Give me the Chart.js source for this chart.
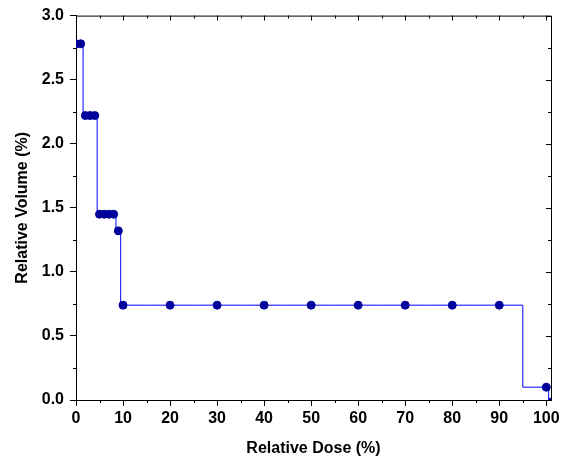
<!DOCTYPE html>
<html>
<head>
<meta charset="utf-8">
<script src="https://cdn.jsdelivr.net/npm/chart.js@4.4.1/dist/chart.umd.min.js"></script>
<style>
  html, body { margin: 0; padding: 0; background: #fff; }
  #wrap { width: 565px; height: 462px; }
</style>
</head>
<body>
<div id="wrap"><canvas id="dvh" width="565" height="462"></canvas></div>
<script>
"use strict";
// data
const dose   = [0, 1, 2, 3, 4, 5, 6, 7, 8, 9, 10, 20, 30, 40, 50, 60, 70, 80, 90, 100, 101];
const volume = [2.78, 2.78, 2.22, 2.22, 2.22, 1.45, 1.45, 1.45, 1.45, 1.32,
                0.74, 0.74, 0.74, 0.74, 0.74, 0.74, 0.74, 0.74, 0.74, 0.10, 0];
const xTicks = [0, 10, 20, 30, 40, 50, 60, 70, 80, 90, 100];
const xMinor = [5, 15, 25, 35, 45, 55, 65, 75, 85, 95];
const yTicks = [0, 0.5, 1.0, 1.5, 2.0, 2.5, 3.0];
const yMinor = [0.25, 0.75, 1.25, 1.75, 2.25, 2.75];

const FONT = "'Liberation Sans', Arial, sans-serif";

// minor ticks outside + top/right frame with inward ticks
const framePlugin = {
  id: "frame",
  afterDraw(chart) {
    const ctx = chart.ctx;
    const a = chart.chartArea;
    const xs = chart.scales.x, ys = chart.scales.y;
    ctx.save();
    ctx.strokeStyle = "#000";
    ctx.lineWidth = 1;
    ctx.beginPath();
    // top + right border
    ctx.moveTo(a.left, a.top + 0.5);
    ctx.lineTo(a.right + 0.5, a.top + 0.5);
    ctx.lineTo(a.right + 0.5, a.bottom);
    // bottom minor ticks (out) and top ticks (in)
    xMinor.forEach(function (v) {
      const px = Math.round(xs.getPixelForValue(v)) + 0.5;
      ctx.moveTo(px, a.bottom); ctx.lineTo(px, a.bottom + 3);
      ctx.moveTo(px, a.top); ctx.lineTo(px, a.top + 3);
    });
    xTicks.forEach(function (v) {
      const px = Math.round(xs.getPixelForValue(v)) + 0.5;
      ctx.moveTo(px, a.top); ctx.lineTo(px, a.top + 5);
    });
    // left minor ticks (out) and right ticks (in)
    yMinor.forEach(function (v) {
      const py = Math.round(ys.getPixelForValue(v)) + 0.5;
      ctx.moveTo(a.left, py); ctx.lineTo(a.left - 3, py);
      ctx.moveTo(a.right, py); ctx.lineTo(a.right - 3, py);
    });
    yTicks.forEach(function (v) {
      const py = Math.round(ys.getPixelForValue(v)) + 0.5;
      ctx.moveTo(a.right, py); ctx.lineTo(a.right - 5, py);
    });
    ctx.stroke();
    ctx.restore();
  }
};

const ctx = document.getElementById("dvh");
const chart = new Chart(ctx, {
  type: "scatter",
  data: {
    datasets: [{
      data: dose.map(function (d, i) { return { x: d, y: volume[i] }; }),
      showLine: true,
      stepped: "middle",
      borderColor: "#0000ff",
      borderWidth: 1,
      pointBackgroundColor: "#00009a",
      pointBorderColor: "#00009a",
      pointBorderWidth: 1,
      pointRadius: function (c) { return c.dataIndex === dose.length - 1 ? 2 : 4; }
    }]
  },
  options: {
    responsive: false,
    animation: false,
    layout: { padding: { top: 15, right: 14, left: 0, bottom: 0 } },
    plugins: { legend: { display: false }, tooltip: { enabled: false } },
    scales: {
      x: {
        type: "linear",
        min: 0,
        max: 101,
        afterBuildTicks: function (s) { s.ticks = xTicks.map(function (v) { return { value: v }; }); },
        afterFit: function (s) { s.height = 62; },
        grid: { drawOnChartArea: false, tickLength: 6, color: "#000", tickColor: "#000" },
        border: { display: true, color: "#000", width: 1 },
        ticks: {
          color: "#000",
          padding: 3,
          maxRotation: 0,
          font: { family: FONT, size: 16, weight: "bold" }
        },
        title: {
          display: true,
          text: "Relative Dose (%)",
          color: "#000",
          font: { family: FONT, size: 16, weight: "bold", lineHeight: 1 },
          padding: { top: 0, bottom: 5 }
        }
      },
      y: {
        type: "linear",
        min: 0,
        max: 3,
        afterBuildTicks: function (s) { s.ticks = yTicks.map(function (v) { return { value: v }; }); },
        afterFit: function (s) { s.width = 76; },
        grid: { drawOnChartArea: false, tickLength: 6, color: "#000", tickColor: "#000" },
        border: { display: true, color: "#000", width: 1 },
        ticks: {
          color: "#000",
          padding: 6,
          font: { family: FONT, size: 16, weight: "bold" },
          callback: function (v) { return Number(v).toFixed(1); }
        },
        title: {
          display: true,
          text: "Relative Volume (%)",
          color: "#000",
          font: { family: FONT, size: 16, weight: "bold", lineHeight: 1 },
          padding: { top: 15, bottom: 0 }
        }
      }
    }
  },
  plugins: [framePlugin]
});
</script>
</body>
</html>
